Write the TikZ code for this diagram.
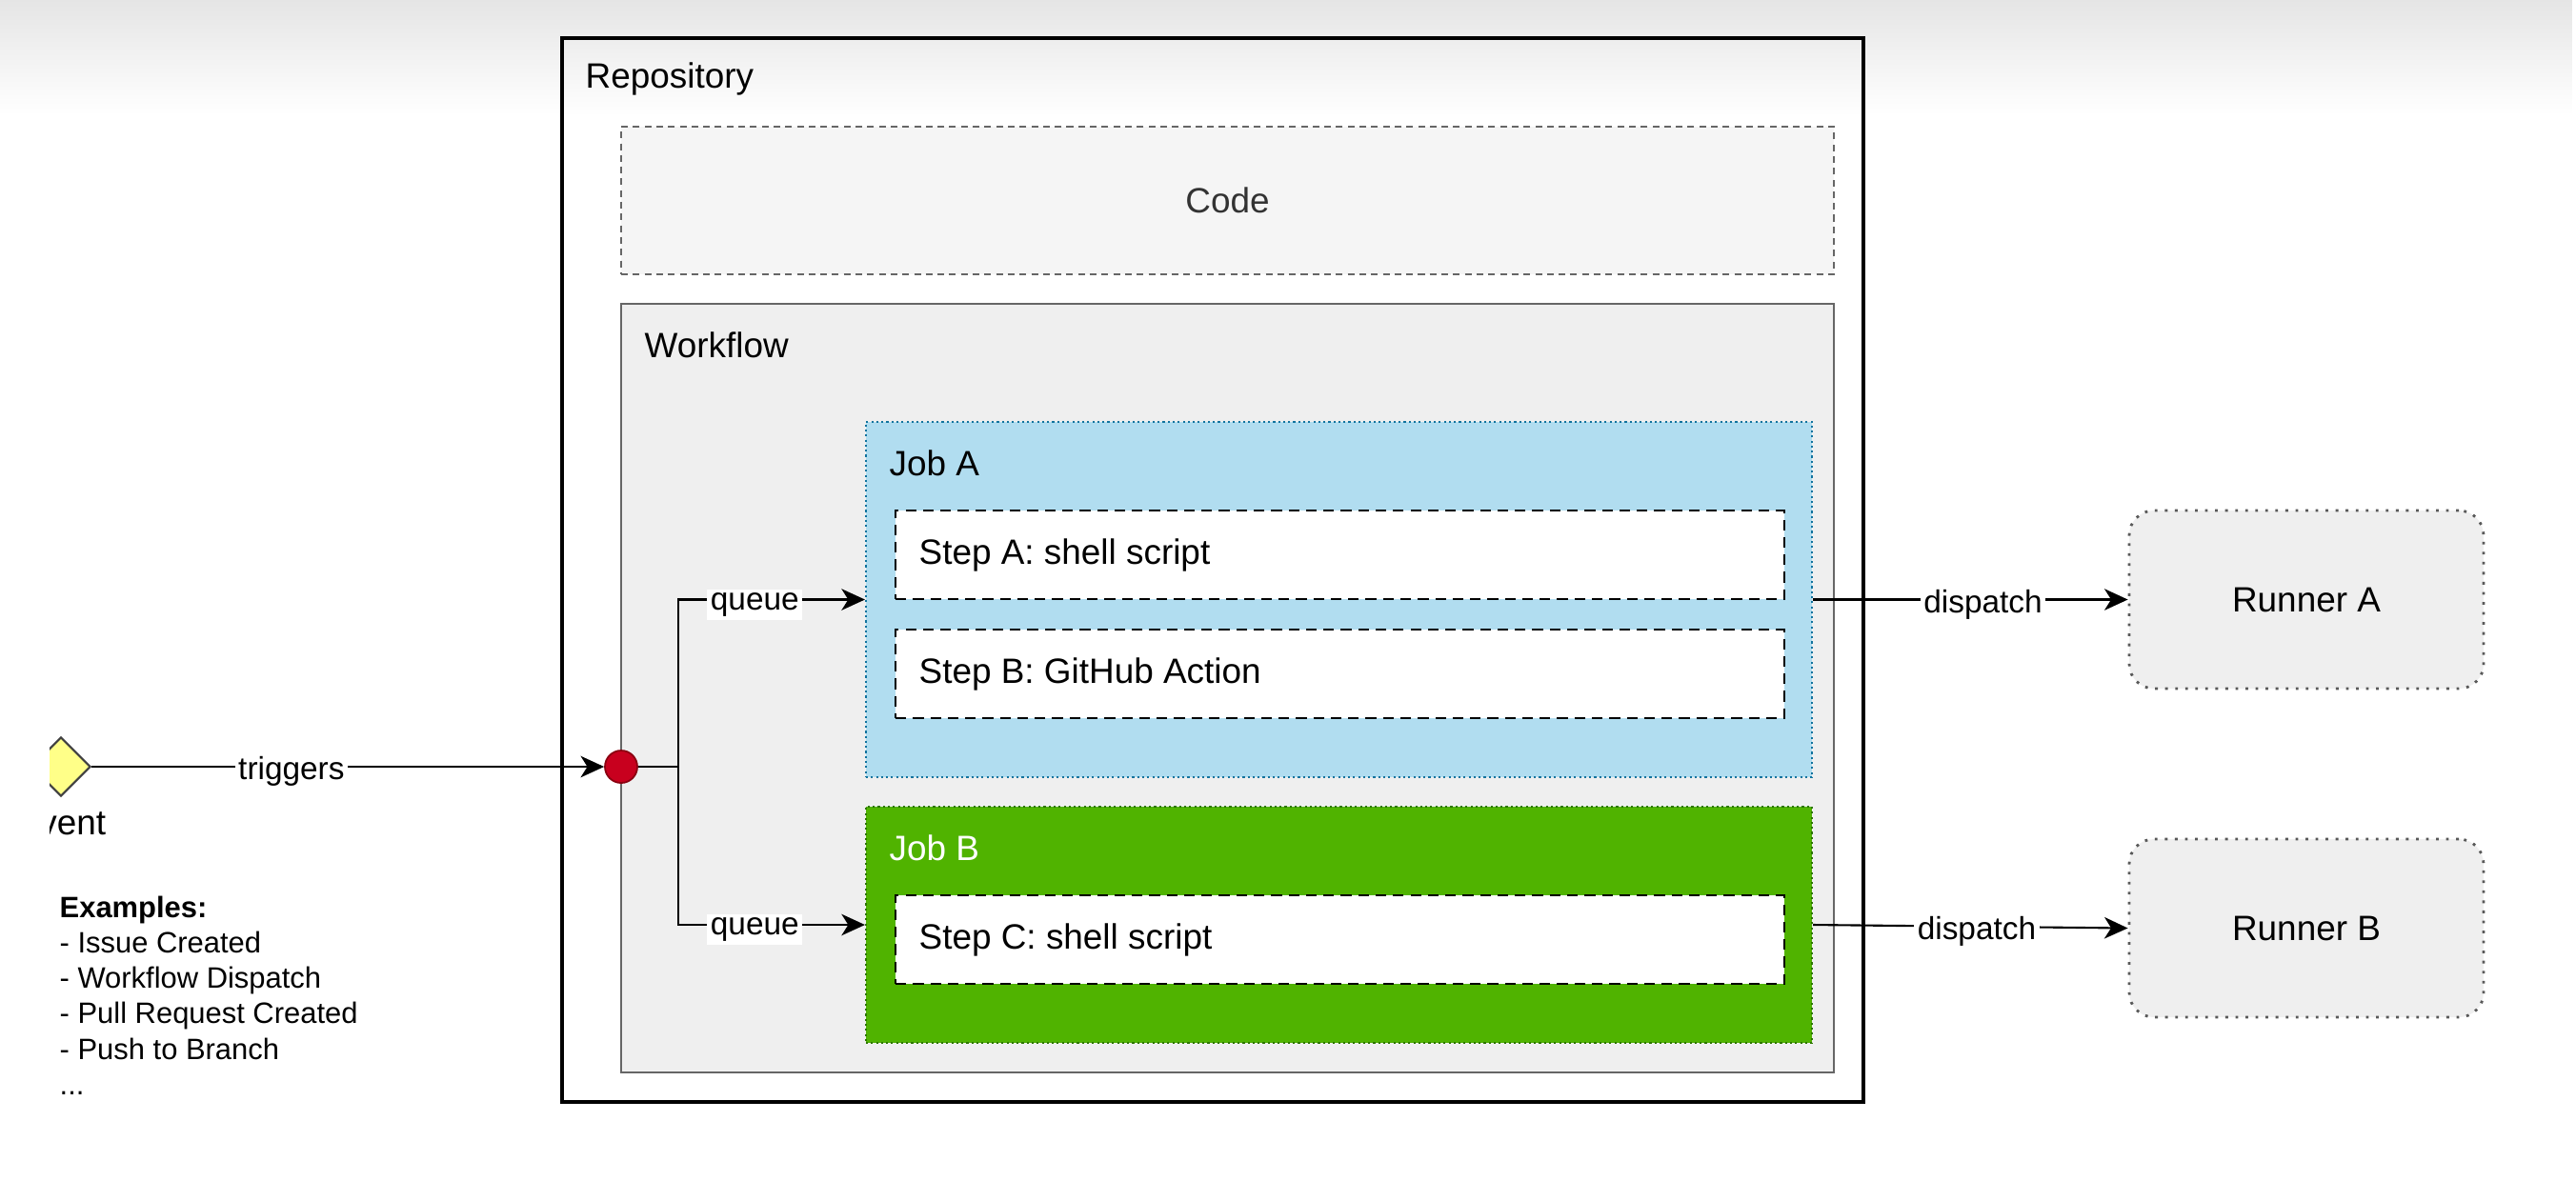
\documentclass[tikz,border=0pt]{standalone}
\usepackage{fontspec}
\setmainfont{Liberation Sans}
\usetikzlibrary{positioning,arrows.meta,shapes.geometric,fadings}

\definecolor{jobblue}{HTML}{B1DDF0}
\definecolor{jobblueline}{HTML}{10739E}
\definecolor{jobgreen}{HTML}{50B300}
\definecolor{jobgreenline}{HTML}{2D7600}
\definecolor{boxgray}{HTML}{EFEFEF}
\definecolor{codegray}{HTML}{F5F5F5}
\definecolor{linegray}{HTML}{666666}
\definecolor{textgray}{HTML}{333333}
\definecolor{dotred}{HTML}{C8001E}
\definecolor{dotline}{HTML}{8A0010}
\definecolor{eventyellow}{HTML}{FFFF88}

\newcommand\boxfont{\fontsize{10.5}{12.6}\selectfont}
\newcommand\edgefont{\fontsize{9.5}{11.4}\selectfont}
\newcommand\examplefont{\fontsize{8.8}{10.6}\selectfont}

\tikzfading[name=topfade, top color=transparent!0, bottom color=transparent!100]

\tikzset{
    box/.style={draw, rectangle, inner sep=0pt},
    title/.style={anchor=west, inner sep=0pt, font=\boxfont},
    jobbox/.style={box, line width=0.6pt, dash pattern=on 0.6pt off 0.9pt,
        minimum width=9.93cm},
    stepbox/.style={box, fill=white, line width=0.8pt, dash pattern=on 3.2pt off 2pt,
        minimum width=9.33cm, minimum height=0.93cm},
    runner/.style={box, rounded corners=0.26cm, draw=black!65, fill=boxgray,
        line width=0.8pt, dash pattern=on 0.8pt off 2.2pt,
        minimum width=3.72cm, minimum height=1.87cm, font=\boxfont},
    conn/.style={-{Stealth[length=7pt,width=6.4pt,inset=2pt]}, line width=0.6pt},
    edgelabel/.style={fill=white, inner sep=1pt, yshift=-1.5pt, font=\edgefont}
}

\begin{document}
\begin{tikzpicture}
    \useasboundingbox (0,0) rectangle (27.04,-12.60);

    % repository with code and workflow
    \node[box, line width=0.9pt, fill=white, minimum width=13.66cm, minimum height=11.17cm]
        (repo) at (12.73,-5.985) {};
    \node[title] (repotitle) at (6.14,-0.83) {Repository};

    \node[box, draw=linegray, fill=codegray, dash pattern=on 2pt off 1.5pt,
        minimum width=12.73cm, minimum height=1.55cm, text=textgray, font=\boxfont]
        (code) at (12.885,-2.105) {Code};

    \node[box, draw=linegray, fill=boxgray, minimum width=12.73cm, minimum height=8.07cm]
        (flow) at (12.885,-7.225) {};
    \node[title] (flowtitle) at (6.76,-3.62) {Workflow};

    % jobs and steps
    \node[jobbox, fill=jobblue, draw=jobblueline, minimum height=3.73cm]
        (jobA) at (14.055,-6.295) {};
    \node[title] (jobAtitle) at (9.33,-4.86) {Job A};
    \node[stepbox] (stepA) at (14.065,-5.825) {};
    \node[title] (stepAtxt) at (9.64,-5.825) {Step A: shell script};
    \node[stepbox] (stepB) at (14.065,-7.075) {};
    \node[title] (stepBtxt) at (9.64,-7.075) {Step B: GitHub Action};

    \node[jobbox, fill=jobgreen, draw=jobgreenline, minimum height=2.48cm]
        (jobB) at (14.055,-9.71) {};
    \node[title, text=white] (jobBtitle) at (9.33,-8.90) {Job B};
    \node[stepbox] (stepC) at (14.065,-9.865) {};
    \node[title] (stepCtxt) at (9.64,-9.865) {Step C: shell script};

    % runners
    \node[runner] (runA) at (24.21,-6.295) {Runner A};
    \node[runner] (runB) at (24.21,-9.745) {Runner B};

    % event, cut by the left edge
    \begin{scope}
        \clip (0.52,-7.4) rectangle (2,-9.1);
        \node[diamond, aspect=1, draw=black!75, fill=eventyellow, line width=0.6pt,
            inner sep=0pt, minimum width=0.62cm, minimum height=0.62cm]
            (event) at (0.64,-8.05) {};
        \node[inner sep=0pt, font=\boxfont] (eventtxt) at (0.64,-8.64) {Event};
    \end{scope}

    \node[anchor=north west, align=left, inner sep=0pt, font=\examplefont]
        (examples) at (0.62,-9.40)
        {\textbf{Examples:}\\- Issue Created\\- Workflow Dispatch\\- Pull Request Created\\- Push to Branch\\...};

    % start point
    \node[circle, fill=dotred, draw=dotline, line width=0.5pt, inner sep=0pt, minimum size=0.34cm]
        (start) at (6.52,-8.05) {};
    \coordinate (fork) at (7.12,-8.05);

    % connectors
    \draw[conn] (event.east) -- node[edgelabel, pos=0.39] {triggers} (start.west);
    \draw[line width=0.6pt] (start.east) -- (fork);
    \draw[conn] (fork) |- node[edgelabel, pos=0.705] {queue} (jobA.west);
    \draw[conn] (fork) |- node[edgelabel, pos=0.705] {queue} (jobB.west);
    \draw[conn] (jobA.east) -- node[edgelabel, pos=0.54] {dispatch} (runA.west);
    \draw[conn] (jobB.east) -- node[edgelabel, pos=0.52] {dispatch} (runB.west);

    % grey shade at the top of the frame
    \fill[black!10, path fading=topfade, blend mode=multiply] (0,0) rectangle (27.04,-1.2);
\end{tikzpicture}
\end{document}
